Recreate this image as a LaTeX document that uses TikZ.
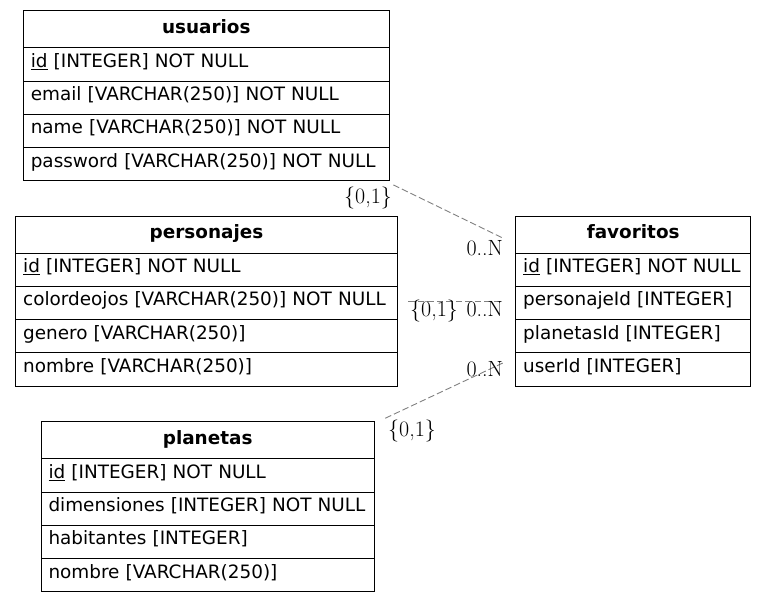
\documentclass[tikz,border=0pt]{standalone}
\usepackage{fontspec}
\newfontfamily\tabfont{DejaVu Sans}
\newcommand\fld[1]{\mbox{#1}}
\begin{document}
\begin{tikzpicture}[x=1pt,y=-1pt,
  cellbase/.style={draw=black, line width=1pt, rectangle, anchor=north west,
    outer sep=0pt, inner ysep=0pt, inner xsep=7.5pt, align=left,
    font=\tabfont\fontsize{18.4}{22}\selectfont},
  head/.style={cellbase, align=center, text width=#1-15pt,
    font=\tabfont\bfseries\fontsize{18.4}{22}\selectfont,
    text height=22.6pt, text depth=14.4pt},
  row/.style={cellbase, text width=#1-15pt, text height=19.5pt, text depth=13.8pt},
  rel/.style={draw=gray, line width=0.9pt, dash pattern=on 6.5pt off 3pt},
  card/.style={font=\fontsize{22}{24}\selectfont, inner sep=0pt, anchor=base}
]
\useasboundingbox (0,0) rectangle (767,603);

% usuarios
\node[head=366pt] (usu-h) at (23.3,10.7) {usuarios};
\node[row=366pt] (usu-1) at (usu-h.south west) {\fld{\underline{id} [INTEGER] NOT NULL}};
\node[row=366pt] (usu-2) at (usu-1.south west) {\fld{email [VARCHAR(250)] NOT NULL}};
\node[row=366pt] (usu-3) at (usu-2.south west) {\fld{name [VARCHAR(250)] NOT NULL}};
\node[row=366pt] (usu-4) at (usu-3.south west) {\fld{password [VARCHAR(250)] NOT NULL}};

% personajes
\node[head=381.6pt] (per-h) at (15.7,216) {personajes};
\node[row=381.6pt] (per-1) at (per-h.south west) {\fld{\underline{id} [INTEGER] NOT NULL}};
\node[row=381.6pt] (per-2) at (per-1.south west) {\fld{colordeojos [VARCHAR(250)] NOT NULL}};
\node[row=381.6pt] (per-3) at (per-2.south west) {\fld{genero [VARCHAR(250)]}};
\node[row=381.6pt] (per-4) at (per-3.south west) {\fld{nombre [VARCHAR(250)]}};

% planetas
\node[head=333.3pt] (pla-h) at (41,421.7) {planetas};
\node[row=333.3pt] (pla-1) at (pla-h.south west) {\fld{\underline{id} [INTEGER] NOT NULL}};
\node[row=333.3pt] (pla-2) at (pla-1.south west) {\fld{dimensiones [INTEGER] NOT NULL}};
\node[row=333.3pt] (pla-3) at (pla-2.south west) {\fld{habitantes [INTEGER]}};
\node[row=333.3pt] (pla-4) at (pla-3.south west) {\fld{nombre [VARCHAR(250)]}};

% favoritos
\node[head=235pt] (fav-h) at (515.7,216) {favoritos};
\node[row=235pt] (fav-1) at (fav-h.south west) {\fld{\underline{id} [INTEGER] NOT NULL}};
\node[row=235pt] (fav-2) at (fav-1.south west) {\fld{personajeId [INTEGER]}};
\node[row=235pt] (fav-3) at (fav-2.south west) {\fld{planetasId [INTEGER]}};
\node[row=235pt] (fav-4) at (fav-3.south west) {\fld{userId [INTEGER]}};

% relations
\draw[rel] ([shift={(4,4)}]usu-4.south east) -- ([shift={(-13,3.5)}]fav-h.west);
\draw[rel] ([shift={(11,-2)}]per-2.east) -- ([shift={(-18,-2)}]fav-2.west);
\draw[rel] ([shift={(11,-3.5)}]pla-h.north east) -- ([shift={(-13,-6.5)}]fav-4.west);

% cardinalities
\node[card] (c1a) at (368,203) {\{0,1\}};
\node[card] (c1b) at (484.7,255) {0..N};
\node[card] (c2a) at (434,316.7) {\{0,1\}};
\node[card] (c2b) at (484.7,316.7) {0..N};
\node[card] (c3a) at (412,436.7) {\{0,1\}};
\node[card] (c3b) at (484.7,376.7) {0..N};
\end{tikzpicture}
\end{document}
